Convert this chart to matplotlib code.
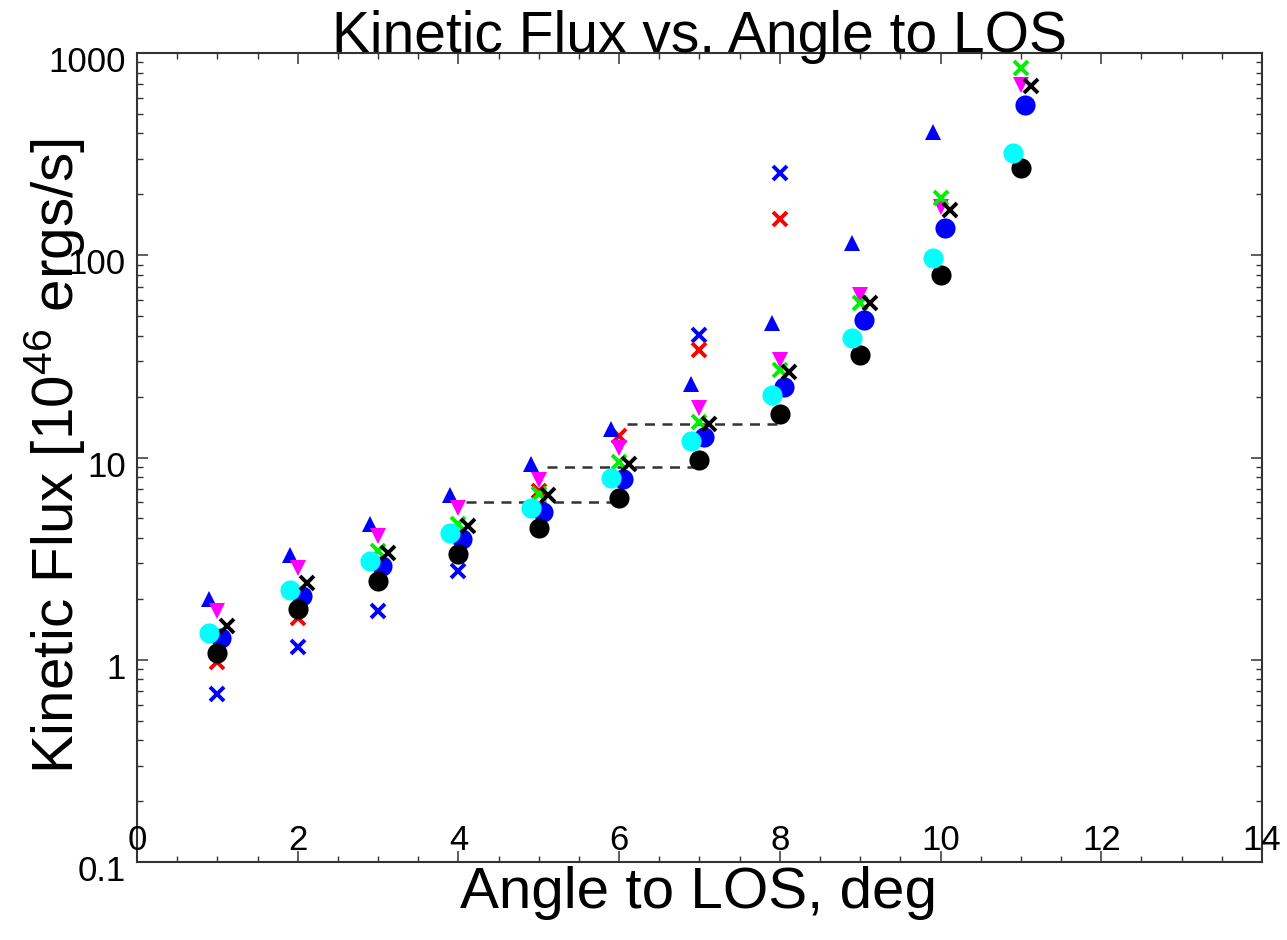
import numpy as np
import matplotlib
matplotlib.use("Agg")
import matplotlib.pyplot as plt
from matplotlib import transforms as mtrans
from matplotlib.ticker import MultipleLocator, LogLocator, NullFormatter

nan = np.nan

# ---------------- data ----------------
angles = [1, 2, 3, 4, 5, 6, 7, 8, 9, 10, 11]

blue_tri   = [2.0, 3.3, 4.7, 6.5, 9.3, 13.9, 23.2, 46.0, 115.0, 406.0, nan]
magenta_tri = [1.75, 2.85, 4.1, 5.6, 7.7, 11.2, 17.5, 30.2, 63.4, 173.0, 695.0]
blue_x     = [0.68, 1.15, 1.75, 2.76, nan, nan, 40.2, 254.0, nan, nan, nan]
red_x      = [0.97, 1.6, nan, nan, 6.8, 12.8, 33.9, 151.0, nan, nan, nan]
green_x    = [nan, nan, 3.45, 4.7, 6.6, 9.45, 14.9, 27.0, 57.8, 191.0, 843.0]
black_x    = [1.47, 2.40, 3.39, 4.60, 6.49, 9.33, 14.7, 26.4, 57.8, 167.0, 687.0]
cyan_circ  = [1.36, 2.22, 3.09, 4.21, 5.65, 7.96, 12.1, 20.3, 38.8, 96.6, 320.0]
blue_circ  = [1.28, 2.07, 2.92, 3.97, 5.4, 7.8, 12.6, 22.2, 47.7, 136.0, 553.0]
black_circ = [1.08, 1.79, 2.46, 3.35, 4.50, 6.34, 9.67, 16.5, 32.0, 79.6, 270.0]

dash_x_start = [4.1, 5.1, 6.1]
dash_x_end   = [6.0, 7.0, 8.0]
dash_y       = [6.0, 8.98, 14.6]

x_ticks = [0, 2, 4, 6, 8, 10, 12, 14]
x_tick_labels = ["0", "2", "4", "6", "8", "10", "12", "14"]
y_ticks = [0.1, 1, 10, 100, 1000]
y_tick_labels = ["0.1", "1", "10", "100", "1000"]

title = "Kinetic Flux vs. Angle to LOS"
xlabel = "Angle to LOS, deg"
ylabel = r"Kinetic Flux [10$^{46}$ ergs/s]"

# ---------------- style ----------------
FONT = "Liberation Sans"
plt.rcParams["font.family"] = [FONT, "DejaVu Sans"]
plt.rcParams["mathtext.fontset"] = "custom"
plt.rcParams["mathtext.rm"] = FONT
plt.rcParams["mathtext.it"] = FONT
plt.rcParams["mathtext.bf"] = FONT

W, H, DPI = 1287, 940, 100
fig = plt.figure(figsize=(W / DPI, H / DPI), dpi=DPI)
L, R, T, B = 137, 1262, 53, 862
ax = fig.add_axes([L / W, 1 - B / H, (R - L) / W, (B - T) / H])

ax.set_xlim(0, 14)
ax.set_yscale("log")
ax.set_ylim(0.1, 1000)

spine_col = "#333333"
for s in ax.spines.values():
    s.set_linewidth(1.5)
    s.set_color(spine_col)

ax.xaxis.set_major_locator(MultipleLocator(2))
ax.xaxis.set_minor_locator(MultipleLocator(0.5))
ax.yaxis.set_major_locator(LogLocator(base=10, numticks=10))
ax.yaxis.set_minor_locator(LogLocator(base=10, subs=np.arange(2, 10), numticks=20))
ax.yaxis.set_minor_formatter(NullFormatter())
ax.tick_params(which="both", direction="in", top=True, right=True,
               labelbottom=False, labelleft=False, color=spine_col)
ax.tick_params(which="major", length=8, width=1.1)
ax.tick_params(which="minor", length=4, width=1.0)

# ---------------- data marks ----------------
xa = np.array(angles, dtype=float)
for xs, xe, yv in zip(dash_x_start, dash_x_end, dash_y):
    ax.plot([xs, xe], [yv, yv], color="#333333", lw=1.8, ls=(0, (4, 3)), zorder=2)

mk = dict(ls="none", zorder=3)
xkw = dict(marker="x", ms=10, mew=2.8)
ax.plot(xa, blue_x, color="#0000ff", **xkw, **mk)
ax.plot(xa, red_x, color="#ff0000", **xkw, **mk)
ax.plot(xa - 0.1, blue_tri, marker="^", ms=11.5, color="#0000ff", mew=0, **mk)
ax.plot(xa, magenta_tri, marker="v", ms=11.5, color="#ff00ff", mew=0, **mk)
ax.plot(xa, green_x, color="#00ee00", **xkw, **mk)
ax.plot(xa + 0.05, blue_circ, marker="o", ms=14.5, color="#0000ff", mew=0, **mk)
ax.plot(xa, black_circ, marker="o", ms=14.5, color="#000000", mew=0, **mk)
ax.plot(xa - 0.1, cyan_circ, marker="o", ms=14.5, color="#00ffff", mew=0, **mk)
ax.plot(xa + 0.12, black_x, color="#000000", **xkw, **mk)

# ---------------- tick labels (IDL-style placement) ----------------
tick_fs = 25
xtrans = mtrans.blended_transform_factory(ax.transData, ax.transAxes)
for t, lab in zip(x_ticks, x_tick_labels):
    ax.text(t, 0.015, lab, transform=xtrans, ha="center", va="baseline",
            fontsize=tick_fs, clip_on=False)

ytrans = mtrans.blended_transform_factory(ax.transAxes, ax.transData) + \
    mtrans.ScaledTranslation(0, -19 / DPI, fig.dpi_scale_trans)
for t, lab in zip(y_ticks, y_tick_labels):
    ax.text(-0.0098, t, lab, transform=ytrans, ha="right", va="baseline",
            fontsize=tick_fs, clip_on=False)

# ---------------- titles ----------------
fig.text((L + R) / 2 / W, 1 - 52 / H, title, ha="center", va="baseline", fontsize=41)
fig.text(699 / W, 1 - 908 / H, xlabel, ha="center", va="baseline", fontsize=42)
fig.text(55 / W, 1 - 456 / H, ylabel, ha="center", va="center", rotation=90, fontsize=42)

fig.savefig("out.png", dpi=DPI)
